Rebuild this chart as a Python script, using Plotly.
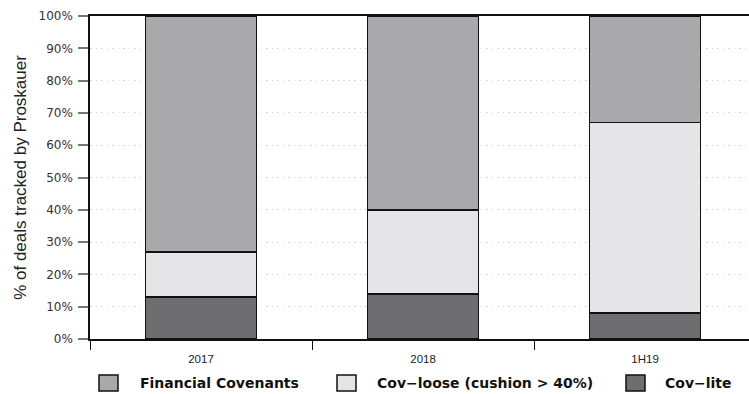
import plotly.graph_objects as go

categories = ["2017", "2018", "1H19"]
cov_lite = [13, 14, 8]
cov_loose = [14, 26, 59]
financial_covenants = [73, 60, 33]
y_ticks = [0, 10, 20, 30, 40, 50, 60, 70, 80, 90, 100]
y_tick_labels = [f"{v}%" for v in y_ticks]

names = ["Cov\u2212lite", "Cov\u2212loose (cushion > 40%)", "Financial Covenants"]
colors = ["#6e6e71", "#e5e5e7", "#a9a9ac"]
values = [cov_lite, cov_loose, financial_covenants]

fig = go.Figure()
for name, vals, col in zip(names, values, colors):
    fig.add_trace(go.Bar(
        x=categories, y=vals, name=name, showlegend=False,
        marker=dict(color=col, line=dict(color="#111111", width=1.6)),
        width=0.5,
    ))

# plot area in pixels
L, R, T, B = 90, 749, 16, 339
def px_x(p):
    return (p - L) / (R - L)
def px_y(p):
    return (B - p) / (B - T)

# manual legend (order: Financial Covenants, Cov-loose, Cov-lite)
legend_items = [
    (names[2], colors[2], 99, 138),
    (names[1], colors[1], 337, 375),
    (names[0], colors[0], 626, 663),
]
for name, col, sx, tx in legend_items:
    fig.add_shape(type="rect", xref="paper", yref="paper",
                  x0=px_x(sx), x1=px_x(sx + 19), y0=px_y(391), y1=px_y(375),
                  fillcolor=col, line=dict(color="#111111", width=1.5))
    fig.add_annotation(xref="paper", yref="paper", x=px_x(tx), y=px_y(383),
                       text=f"<b>{name}</b>", showarrow=False,
                       xanchor="left", yanchor="middle",
                       font=dict(family="DejaVu Sans", size=14, color="#111111"))

fig.update_layout(
    width=749, height=394,
    margin=dict(l=L, r=749 - R, t=T, b=394 - B),
    barmode="stack",
    plot_bgcolor="white", paper_bgcolor="white",
    font=dict(family="Liberation Sans, Arial, sans-serif", color="#222222"),
    showlegend=False,
    xaxis=dict(
        type="category", range=[-0.5, 2.468],
        tickson="boundaries", ticks="outside", ticklen=9, tickcolor="#111111", tickwidth=1.2,
        ticklabelstandoff=8,
        showline=True, linecolor="#111111", linewidth=1.5, mirror=True,
        showgrid=False, tickfont=dict(family="Liberation Sans", size=11.5, color="#222222"),
    ),
    yaxis=dict(
        range=[0, 100], tickvals=y_ticks, ticktext=y_tick_labels,
        ticks="outside", ticklen=10, tickcolor="#777777", tickwidth=1.5,
        ticklabelstandoff=3,
        showline=True, linecolor="#111111", linewidth=1.5, mirror=False,
        showgrid=True, gridcolor="#d6d6d6", griddash="1.5px,4px", gridwidth=1,
        tickfont=dict(family="DejaVu Sans", size=12, color="#333333"),
        title=dict(text="% of deals tracked by Proskauer",
                   font=dict(family="Liberation Sans", size=17, color="#222222"), standoff=8),
        zeroline=False,
    ),
)
fig.write_html("out.html")
